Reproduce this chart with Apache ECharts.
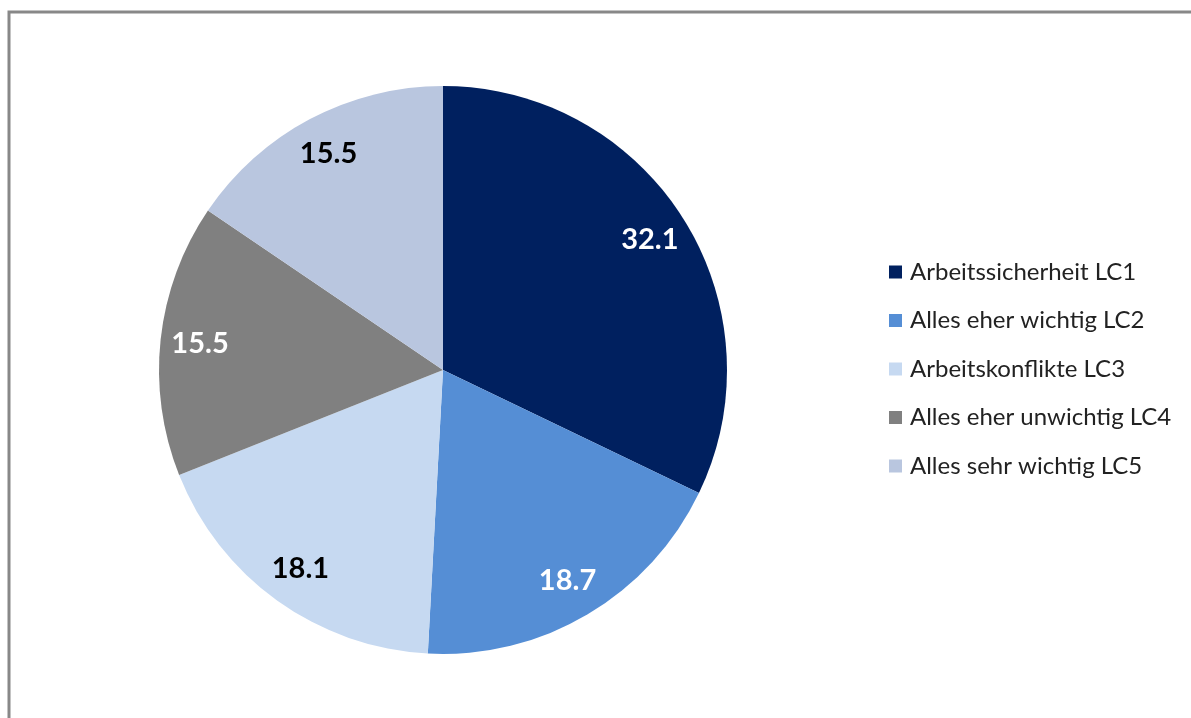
<!DOCTYPE html>
<html><head><meta charset="utf-8">
<script src="https://cdn.jsdelivr.net/npm/echarts@6/dist/echarts.min.js"></script>
<style>html,body{margin:0;padding:0;background:#fff}#c{width:1191px;height:718px}</style>
</head><body><div id="c"></div>
<script>
const categories = ['Arbeitssicherheit LC1','Alles eher wichtig LC2','Arbeitskonflikte LC3','Alles eher unwichtig LC4','Alles sehr wichtig LC5'];
const values = [32.1, 18.7, 18.1, 15.5, 15.5];
const colors = ['#00205F','#558ED5','#C6D9F1','#808080','#B9C6DF'];
const labelColors = ['#ffffff','#ffffff','#000000','#ffffff','#000000'];

const chart = echarts.init(document.getElementById('c'), null, {renderer:'canvas'});
const R = 284;
const font = 'Lato, "Open Sans", sans-serif';
chart.setOption({
  animation:false,
  color: colors,
  graphic:[{type:'rect', shape:{x:9, y:12, width:1400, height:900}, style:{fill:'none', stroke:'#888888', lineWidth:3}, silent:true}],
  legend:{
    orient:'vertical', left:889, top:260, padding:0,
    icon:'rect', itemWidth:13, itemHeight:13, itemGap:24.5,
    data: categories,
    textStyle:{fontFamily:font, fontSize:24, color:'#222', lineHeight:24, padding:[0,0,0,3]}
  },
  series:[
    {
      type:'pie', center:[443,370], radius:[0,R], startAngle:90, clockwise:true,
      label:{show:false}, labelLine:{show:false}, silent:true,
      itemStyle:{borderWidth:0},
      data: categories.map((n,i)=>({name:n, value:values[i], itemStyle:{color:colors[i]}}))
    },
    {
      type:'pie', center:[443,370], radius:[R*0.7,R], startAngle:90, clockwise:true,
      silent:true, labelLine:{show:false},
      itemStyle:{color:'rgba(0,0,0,0)', borderWidth:0},
      label:{show:true, position:'inside', fontFamily:font, fontWeight:'bold', fontSize:29,
        formatter:p=>p.value.toFixed(1)},
      data: categories.map((n,i)=>({name:n, value:values[i], itemStyle:{color:'rgba(0,0,0,0)'}, label:{color:labelColors[i]}}))
    }
  ]
});
</script></body></html>
